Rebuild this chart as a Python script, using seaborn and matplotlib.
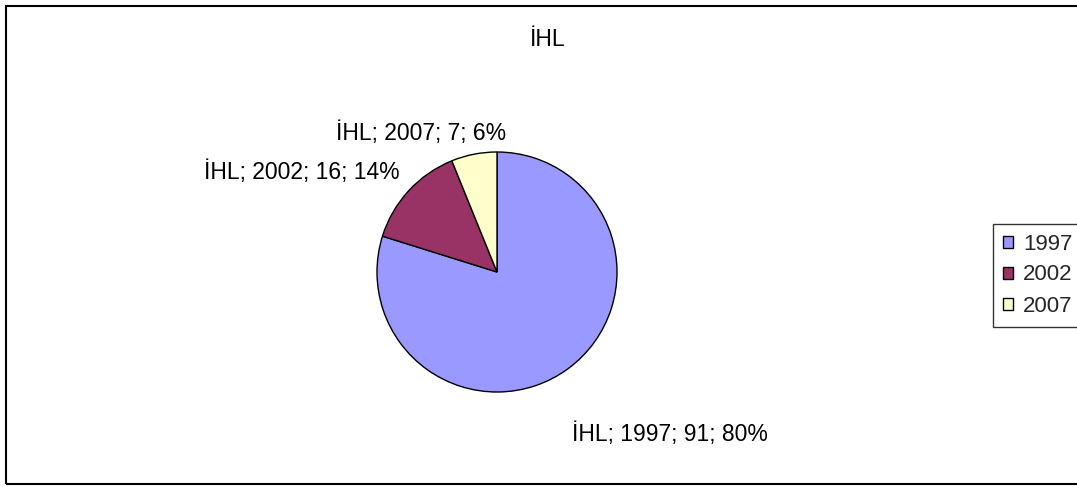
import matplotlib
matplotlib.use("Agg")
import matplotlib.pyplot as plt
import seaborn as sns
from matplotlib.patches import Rectangle

series_name = "İHL"
years = ["1997", "2002", "2007"]
values = [91, 16, 7]
percents = ["80%", "14%", "6%"]
colors = ["#9999FF", "#993366", "#FFFFCC"]

sns.set_theme(style="white")
plt.rcParams['font.family'] = ['Liberation Sans', 'DejaVu Sans']

W, H = 1077, 487
FS = 16.5
fig = plt.figure(figsize=(W / 100, H / 100), dpi=100)
fig.patch.set_facecolor("white")

# figure border (right side runs off the image, as in the reference)
fig.patches.append(Rectangle((6 / W, 3 / H), 1.0, 1 - 9 / H,
                             transform=fig.transFigure, fill=False,
                             edgecolor="black", linewidth=1.5))

cx, cy, r = 497, 272, 120
ax = fig.add_axes([(cx - r) / W, (H - cy - r) / H, 2 * r / W, 2 * r / H])
wedges, _ = ax.pie(values, colors=colors, startangle=90, counterclock=False,
                   wedgeprops=dict(edgecolor="black", linewidth=1))
ax.set_xlim(-1, 1)
ax.set_ylim(-1, 1)
ax.set_aspect("equal")
ax.axis("off")

label_pos = [(1.44, -1.35), (-1.625, 0.833), (-0.633, 1.158)]
for yr, v, p, (lx, ly) in zip(years, values, percents, label_pos):
    ax.text(lx, ly, f"{series_name}; {yr}; {v}; {p}", ha="center", va="center",
            fontsize=FS, color="black", clip_on=False)

fig.text(548 / W, 1 - 40 / H, series_name, ha="center", va="center",
         fontsize=FS, color="black")

leg = fig.legend(wedges, years, loc="center left",
                 bbox_to_anchor=(993 / W, 1 - 275 / H),
                 frameon=True, fancybox=False, fontsize=16,
                 handlelength=0.45, handleheight=0.45, handletextpad=0.45,
                 labelspacing=0.45, borderpad=0.45, borderaxespad=0)
leg.get_frame().set_edgecolor("black")
leg.get_frame().set_linewidth(1)

fig.savefig("out.png", dpi=100)
